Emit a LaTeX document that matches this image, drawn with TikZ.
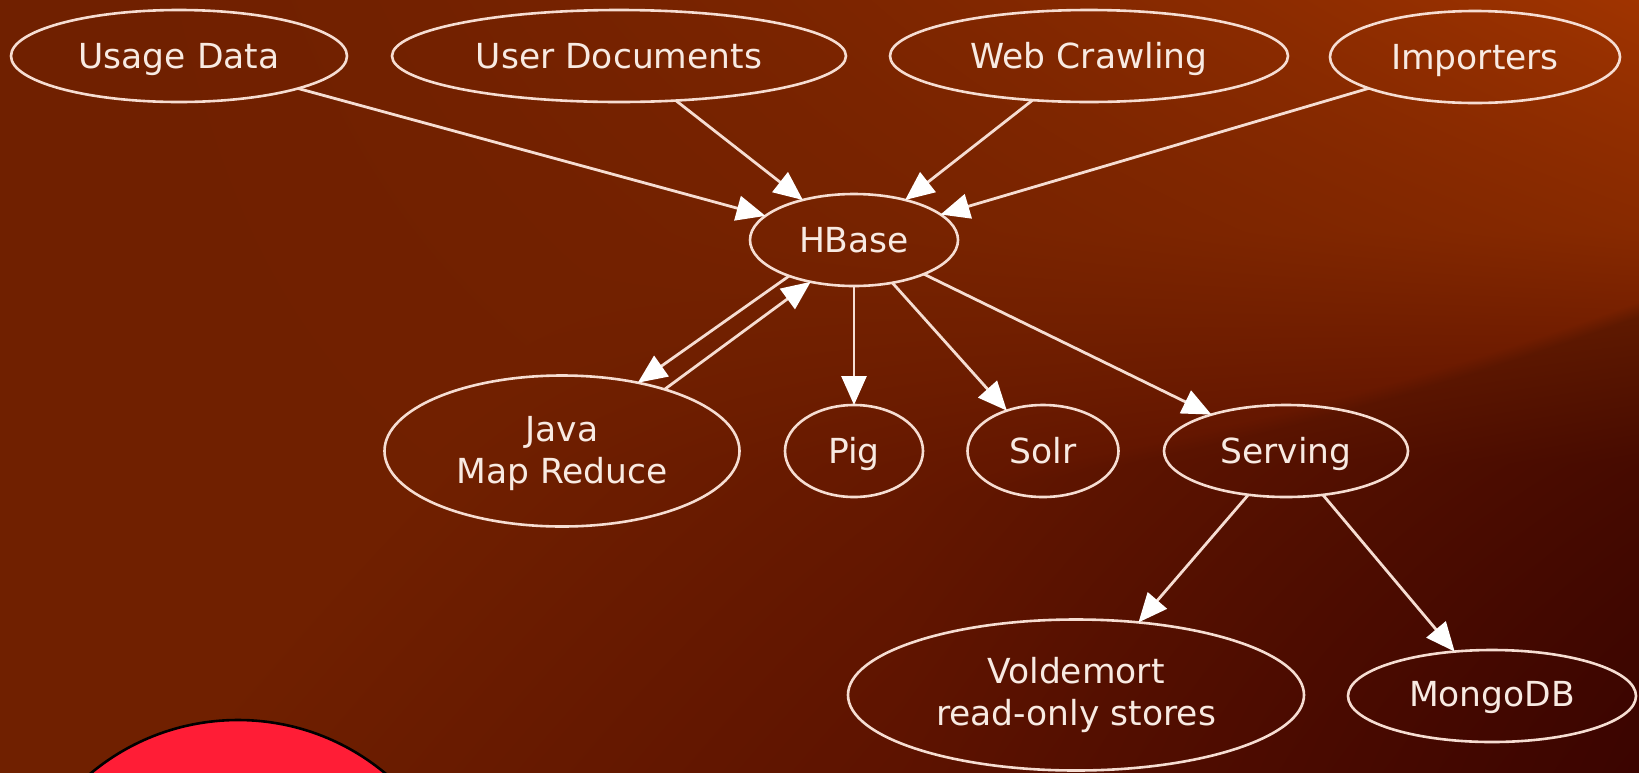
\documentclass[tikz,border=0pt]{standalone}
\usepackage{fontspec}
\setmainfont{DejaVu Sans}
\usetikzlibrary{arrows.meta,shapes.geometric}
\definecolor{edgec}{HTML}{F6DDD2}
\definecolor{textc}{HTML}{F8EAE2}
\definecolor{redc}{HTML}{FF1D36}
\pgfdeclarefunctionalshading{bgfn}{\pgfpoint{0bp}{0bp}}{\pgfpoint{100bp}{100bp}}{}{
  25 sub 50 div 1 exch sub exch 25 sub 50 div exch
  1 index 1 index 1 exch sub mul dup mul
  2 index 2 index 0.4 mul add 0.5 sub 0.9 div dup 0 lt {pop 0} if
  2 index 0.3 sub 0.3 div dup 0 lt {pop 0} if dup 1 gt {pop 1} if mul
  3 index 1 exch sub dup dup mul -0.55 mul exch 0.78 mul add 0.39 add
  3 index exch sub 0.02 div dup 0 lt {pop 0} if dup 1 gt {pop 1} if
  4 index 0.55 sub 0.45 div dup 0 lt {pop 0} if dup 1 gt {pop 1} if
  mul 0.2 mul 1 exch sub
  5 -2 roll pop pop
  2 index 0.188 mul 2 index -0.15 mul add 0.439 add 1 index mul
  3 index 0.078 mul 3 index -0.105 mul add 0.125 add 2 index mul
  5 2 roll pop pop pop
  0
}
\tikzset{
  gn/.style={ellipse,draw=edgec,line width=2.6pt,inner sep=0pt,outer sep=0pt,text=textc,align=center,
    font=\fontsize{34.5}{42}\selectfont},
  one/.style={gn,minimum height=92pt,text height=25pt,text depth=0pt},
  cn/.style={draw=edgec,line width=2.8pt,-{Triangle[length=29pt,width=25pt,fill=white,color=white]}}
}
\begin{document}
\begin{tikzpicture}[x=1pt,y=-1pt]
\useasboundingbox (0,0) rectangle (1639,772);
% background
\shade[shading=bgfn] (0,0) rectangle (1639,772);
% red circle
\draw[fill=redc,draw=black,line width=2.6pt] (238,950) circle [radius=230];
% nodes
\node[one,minimum width=336pt] (usage) at (179,56) {Usage Data};
\node[one,minimum width=454pt] (docs) at (619,56) {User Documents};
\node[one,minimum width=398pt] (web) at (1089,56) {Web Crawling};
\node[one,minimum width=290pt] (imp) at (1475,57) {Importers};
\node[one,minimum width=208pt] (hbase) at (854,240) {HBase};
\node[gn,minimum width=355pt,minimum height=151pt] (java) at (562,451) {\rule{0pt}{30pt}Java\\Map Reduce};
\node[one,minimum width=138pt] (pig) at (854,451) {Pig};
\node[one,minimum width=151pt] (solr) at (1043,451) {Solr};
\node[one,minimum width=244pt] (serving) at (1286,451) {Serving};
\node[gn,minimum width=456pt,minimum height=151pt] (vold) at (1076,695) {Voldemort\\read-only stores};
\node[one,minimum width=288pt,text depth=5pt] (mongo) at (1492,696) {MongoDB};
% edges
\draw[cn] (usage) -- (hbase);
\draw[cn] (docs) -- (hbase);
\draw[cn] (web) -- (hbase);
\draw[cn] (imp) -- (hbase);
\draw[cn] (hbase.209) -- (java.42);
\draw[cn] (java.31) -- (hbase.224);
\draw[cn] (hbase) -- (pig);
\draw[cn] (hbase) -- (solr);
\draw[cn] (hbase) -- (serving);
\draw[cn] (serving) -- (vold);
\draw[cn] (serving) -- (mongo);
\end{tikzpicture}
\end{document}
